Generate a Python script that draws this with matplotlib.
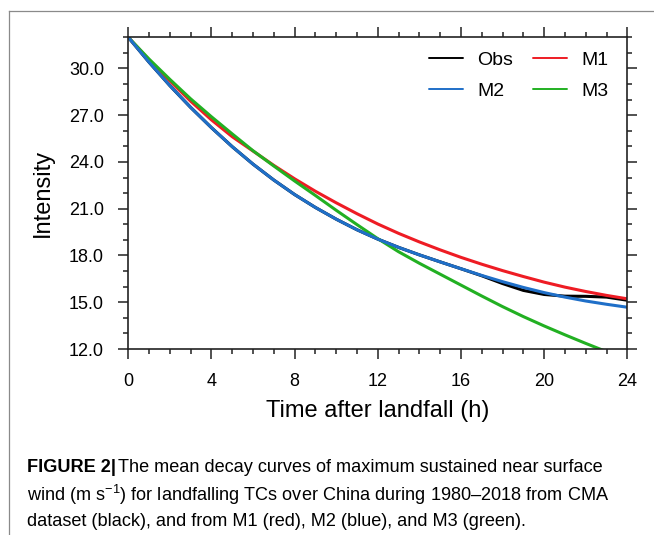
import matplotlib
matplotlib.use("Agg")
import matplotlib.pyplot as plt
from matplotlib.ticker import MultipleLocator, FormatStrFormatter
from matplotlib.lines import Line2D

plt.rcParams['font.family'] = ['Liberation Sans', 'DejaVu Sans']
plt.rcParams['mathtext.fontset'] = 'custom'
plt.rcParams['mathtext.rm'] = 'Liberation Sans'
plt.rcParams['mathtext.it'] = 'Liberation Sans:italic'

# ---- data (hours after landfall, intensity m/s) ----
hours = list(range(25))
obs = [32.0, 30.4, 28.9, 27.5, 26.2, 24.98, 23.86, 22.84, 21.91, 21.08,
       20.33, 19.65, 19.05, 18.52, 18.04, 17.59, 17.15, 16.7, 16.2, 15.76,
       15.5, 15.39, 15.38, 15.33, 15.13]
m1 = [32.0, 30.55, 29.2, 27.9, 26.7, 25.62, 24.7, 23.78, 22.92, 22.12,
      21.38, 20.68, 20.02, 19.42, 18.87, 18.36, 17.88, 17.44, 17.03, 16.65,
      16.29, 15.97, 15.69, 15.44, 15.22]
m2 = [32.0, 30.4, 28.9, 27.5, 26.2, 24.98, 23.86, 22.84, 21.91, 21.08,
      20.33, 19.65, 19.05, 18.52, 18.04, 17.59, 17.15, 16.72, 16.32, 15.95,
      15.62, 15.33, 15.08, 14.87, 14.68]
m3 = [32.0, 30.6, 29.3, 28.05, 26.9, 25.8, 24.72, 23.74, 22.78, 21.85,
      20.9, 19.98, 19.08, 18.24, 17.5, 16.8, 16.1, 15.4, 14.72, 14.08,
      13.48, 12.91, 12.36, 11.83, 11.33]

series_names = ['Obs', 'M2', 'M1', 'M3']
series_vals = {'Obs': obs, 'M1': m1, 'M2': m2, 'M3': m3}
series_colors = {'Obs': '#000000', 'M1': '#ee1c24', 'M2': '#1f6fc8', 'M3': '#22b022'}

caption_bold = "FIGURE 2|"
caption_lines = [
    "The mean decay curves of maximum sustained near surface",
    "wind (m s$^{-1}$) for landfalling TCs over China during 1980\u20132018 from CMA",
    "dataset (black), and from M1 (red), M2 (blue), and M3 (green).",
]

W, H = 654, 535
fig = plt.figure(figsize=(W / 100, H / 100), dpi=100)

# frame lines (left and top)
fig.add_artist(Line2D([9 / W, 9 / W], [0, 1 - 11 / H], color='#8a8a8a', lw=0.9,
                      transform=fig.transFigure))
fig.add_artist(Line2D([9 / W, 1], [1 - 11 / H, 1 - 11 / H], color='#8a8a8a', lw=0.9,
                      transform=fig.transFigure))

ax_l, ax_r, ax_t, ax_b = 128.3, 627.3, 37.3, 349.0
ax = fig.add_axes([ax_l / W, 1 - ax_b / H, (ax_r - ax_l) / W, (ax_b - ax_t) / H])

draw_order = ['Obs', 'M1', 'M3', 'M2']
handles = {}
for name in draw_order:
    ln, = ax.plot(hours, series_vals[name], color=series_colors[name], lw=2.2,
                  label=name, solid_capstyle='round', solid_joinstyle='round')
    handles[name] = ln

ax.set_xlim(0, 24)
ax.set_ylim(12, 32)
ax.xaxis.set_major_locator(MultipleLocator(4))
ax.xaxis.set_minor_locator(MultipleLocator(1))
ax.yaxis.set_major_locator(MultipleLocator(3))
ax.yaxis.set_minor_locator(MultipleLocator(1))
ax.yaxis.set_major_formatter(FormatStrFormatter('%.1f'))
ax.set_yticks([12, 15, 18, 21, 24, 27, 30])
ax.tick_params(which='both', direction='out', top=True, right=True,
               colors='#222222', width=1.1)
ax.tick_params(which='major', length=7.5, labelsize=13, pad=10, labelcolor='black')
ax.tick_params(which='minor', length=3.5)
for sp in ax.spines.values():
    sp.set_linewidth(1.2)
    sp.set_color('#222222')

ax.set_xlabel('Time after landfall (h)', fontsize=17)
ax.set_ylabel('Intensity', fontsize=17)
ax.xaxis.set_label_coords(0.5, -0.165)
ax.yaxis.set_label_coords(-0.15, 0.5)

leg = ax.legend([handles[n] for n in series_names], series_names, ncol=2,
                frameon=False, fontsize=14, loc='upper right',
                bbox_to_anchor=(0.962, 0.956), borderaxespad=0, borderpad=0,
                handlelength=1.75, handletextpad=0.75, columnspacing=1.0,
                labelspacing=0.72)
for l in leg.get_lines():
    l.set_linewidth(1.4)

# caption
fig.canvas.draw()
renderer = fig.canvas.get_renderer()
cap_size = 13.1
x0 = 27 / W
ys = [468, 494.5, 521]
tb = fig.text(x0, 1 - ys[0] / H, caption_bold, fontsize=cap_size, fontweight='bold',
              va='center', ha='left')
bb = tb.get_window_extent(renderer)
fig.text((bb.x1 + 2) / W, 1 - ys[0] / H, caption_lines[0], fontsize=cap_size,
         va='center', ha='left')
fig.text(x0, 1 - ys[1] / H, caption_lines[1], fontsize=cap_size, va='center', ha='left')
fig.text(x0, 1 - ys[2] / H, caption_lines[2], fontsize=cap_size, va='center', ha='left')

fig.savefig('out.png', dpi=100)
